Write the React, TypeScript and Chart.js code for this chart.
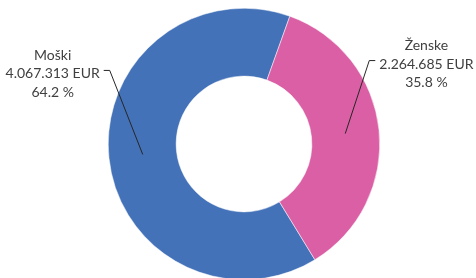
import React, { useEffect, useRef } from "react";
import { Chart, registerables } from "chart.js";

Chart.register(...registerables);

const categories = ["Moški", "Ženske"];
const values = [4067313, 2264685];
const valueLabels = ["4.067.313 EUR", "2.264.685 EUR"];
const percentLabels = ["64.2 %", "35.8 %"];
const colors = ["#4472B8", "#DB5FA5"];

const FONT = "14px Lato, 'Noto Sans', sans-serif";

const labelPlugin = {
  id: "leaderLabels",
  afterDraw(chart: any) {
    const ctx = chart.ctx;
    const meta = chart.getDatasetMeta(0);
    ctx.save();
    ctx.font = FONT;
    ctx.textBaseline = "middle";
    ctx.fillStyle = "#404040";
    ctx.strokeStyle = "#262626";
    ctx.lineWidth = 1;
    meta.data.forEach((arc: any, i: number) => {
      const p = arc.getCenterPoint();
      const left = p.x < arc.x;
      const elbowX = left ? p.x - 33 : p.x + 24;
      const elbowY = left ? p.y - 84 : p.y - 73;
      const tickEnd = left ? elbowX - 6 : elbowX + 6;
      ctx.beginPath();
      ctx.moveTo(p.x, p.y);
      ctx.lineTo(elbowX, elbowY);
      ctx.lineTo(tickEnd, elbowY);
      ctx.stroke();
      const lines = [categories[i], valueLabels[i], percentLabels[i]];
      const w = ctx.measureText(valueLabels[i]).width;
      const textLeft = left ? tickEnd - 4 - w : tickEnd + 4;
      const cx = textLeft + w / 2;
      ctx.textAlign = "center";
      lines.forEach((t, k) => {
        ctx.fillText(t, cx, elbowY + 3.5 + (k - 1) * 18.8);
      });
    });
    ctx.restore();
  },
};

export default function App() {
  const ref = useRef<HTMLCanvasElement>(null);
  useEffect(() => {
    document.body.style.margin = "0";
    document.body.style.overflow = "hidden";
    const chart = new Chart(ref.current!, {
      type: "doughnut",
      data: {
        labels: categories,
        datasets: [
          {
            data: values,
            backgroundColor: colors,
            borderColor: "#ffffff",
            borderWidth: 0.5,
          },
        ],
      },
      options: {
        animation: false,
        responsive: false,
        rotation: 148.5,
        cutout: "50%",
        layout: { padding: { top: 8, bottom: 0, left: 12, right: 0 } },
        plugins: {
          legend: { display: false },
          tooltip: { enabled: false },
        },
      },
      plugins: [labelPlugin],
    });
    return () => chart.destroy();
  }, []);
  return (
    <div style={{ position: "fixed", left: 0, top: 0, width: 476, height: 278, overflow: "hidden", background: "#fff" }}>
      <canvas ref={ref} width={476} height={280} style={{ width: 476, height: 280 }} />
    </div>
  );
}
